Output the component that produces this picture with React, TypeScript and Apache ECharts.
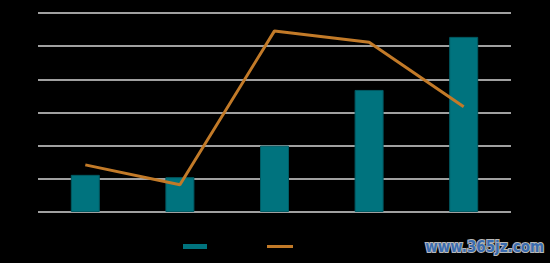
import React, { useEffect, useRef } from "react";
import * as echarts from "echarts";

const categories = ["1", "2", "3", "4", "5"];
const barValues = [1.12, 1.05, 2.0, 3.68, 5.28];
const lineValues = [1.42, 0.82, 5.46, 5.12, 3.17];
const barName = "柱形";
const lineName = "折线";

export default function App() {
  const ref = useRef<HTMLDivElement>(null);
  useEffect(() => {
    if (!ref.current) return;
    const chart = echarts.init(ref.current, null, { renderer: "svg" });
    chart.setOption({
      animation: false,
      backgroundColor: "#000000",
      grid: { left: 38, right: 39, top: 13, bottom: 51 },
      xAxis: {
        type: "category",
        data: categories,
        axisLine: { show: false },
        axisTick: { show: false },
        axisLabel: { show: false },
      },
      yAxis: {
        type: "value",
        min: 0,
        max: 6,
        interval: 1,
        axisLabel: { show: false },
        axisLine: { show: false },
        axisTick: { show: false },
        splitLine: { lineStyle: { color: "#d6d6d6", width: 1.5 } },
      },
      legend: [
        {
          data: [{ name: barName, icon: "rect", itemStyle: { borderWidth: 0 } }],
          left: 183,
          top: 244,
          itemWidth: 24,
          itemHeight: 5,
          itemGap: 0,
          padding: 0,
          formatter: () => "",
          textStyle: { color: "#000" },
        },
        {
          data: [{ name: lineName, icon: "rect", itemStyle: { borderWidth: 0 } }],
          left: 267,
          top: 245,
          itemWidth: 26,
          itemHeight: 3,
          itemGap: 0,
          padding: 0,
          formatter: () => "",
          textStyle: { color: "#000" },
        },
      ],
      series: [
        {
          name: barName,
          type: "bar",
          data: barValues,
          barWidth: 29,
          itemStyle: { color: "#00737e", borderColor: "#005a63", borderWidth: 1 },
        },
        {
          name: lineName,
          type: "line",
          data: lineValues,
          symbol: "none",
          lineStyle: { color: "#c27a28", width: 3 },
          itemStyle: { color: "#c27a28" },
        },
      ],
      graphic: [
        {
          type: "text",
          right: 5,
          top: 238,
          style: {
            text: "www.365jz.com",
            fontFamily: "DejaVu Sans Condensed, Liberation Sans Narrow, DejaVu Sans",
            fontWeight: "bold",
            fontSize: 15,
            fill: "#3a6cb0",
            stroke: "#b8b8b8",
            lineWidth: 2,
          },
        },
      ],
    });
    return () => chart.dispose();
  }, []);
  return (
    <div
      ref={ref}
      style={{ position: "absolute", left: 0, top: 0, width: 550, height: 263 }}
    />
  );
}
